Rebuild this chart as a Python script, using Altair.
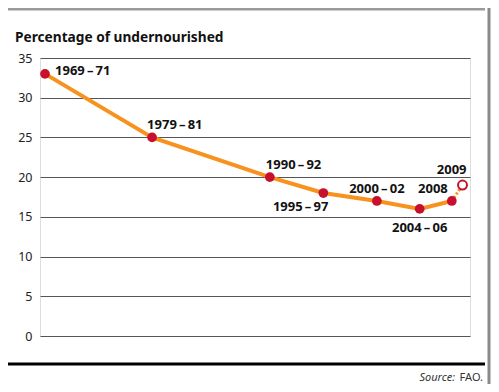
import altair as alt
import pandas as pd

# Data
periods = ["1969\u2009–\u200971", "1979\u2009–\u200981", "1990\u2009–\u200992", "1995\u2009–\u200997",
           "2000\u2009–\u200902", "2004\u2009–\u200906", "2008", "2009"]
mid_years = [1970, 1980, 1991, 1996, 2001, 2005, 2008, 2009]
pct = [33, 25, 20, 18, 17, 16, 17, 19]
estimate = [False, False, False, False, False, False, False, True]
y_ticks = [0, 5, 10, 15, 20, 25, 30, 35]

df = pd.DataFrame({"period": periods, "year": mid_years, "pct": pct, "est": estimate})
one = pd.DataFrame({"a": [0]})

FONT = "Noto Sans"
ORANGE = "#f7921e"
RED = "#c8102e"

x = alt.X("year:Q", scale=alt.Scale(domain=[1969.53, 2009.7], nice=False, zero=False), axis=None)
y = alt.Y("pct:Q", scale=alt.Scale(domain=[0, 35], nice=False),
          axis=alt.Axis(values=y_ticks, title=None, domain=False, ticks=False, grid=True,
                        gridColor="#555", gridWidth=1, labelColor="#222", labelFont=FONT,
                        labelFontSize=12.5, labelPadding=8))

base = alt.Chart(df)

solid = base.transform_filter("datum.year <= 2008").mark_line(
    color=ORANGE, strokeWidth=4).encode(x=x, y=y)
dashed = base.transform_filter("datum.year >= 2008").mark_line(
    color=ORANGE, strokeWidth=3, strokeDash=[2, 2]).encode(x=x, y=y)
pts = base.transform_filter("!datum.est").mark_point(
    filled=True, color=RED, size=95, opacity=1).encode(x=x, y=y)
hollow = base.transform_filter("datum.est").mark_point(
    filled=True, fill="white", stroke=RED, strokeWidth=2, size=80, opacity=1).encode(x=x, y=y)

# label placement (layout only), in the order of `periods`
placement = [
    ("left", 10, -3),
    ("left", -5, -12),
    ("left", -4, -12),
    ("right", 5, 14),
    ("center", 0, -12),
    ("center", 0, 19),
    ("right", -4, -12),
    ("right", 4, -15),
]
labels = []
for p, (al, dx, dy) in zip(periods, placement):
    labels.append(
        base.transform_filter(alt.datum.period == p).mark_text(
            font=FONT, fontSize=13, fontWeight="bold", color="#111", align=al,
            baseline="middle", dx=dx, dy=dy).encode(x=x, y=y, text="period:N"))

oc = alt.Chart(one)
title = oc.mark_text(text="Percentage of undernourished", font=FONT, fontSize=13.7,
                     fontWeight="bold", color="#111", align="left", baseline="middle").encode(
    x=alt.value(-25), y=alt.value(-20))
top_line = oc.mark_rule(color="#9a9a9a", strokeWidth=3).encode(
    x=alt.value(-32), x2=alt.value(445), y=alt.value(-49))
black_line = oc.mark_rule(color="#000", strokeWidth=3).encode(
    x=alt.value(-32), x2=alt.value(445), y=alt.value(306))
right_border = oc.mark_rule(color="#8a8a8a", strokeWidth=3).encode(
    x=alt.value(449), y=alt.value(-50), y2=alt.value(326))
src1 = oc.mark_text(text="Source:", font=FONT, fontSize=11, fontStyle="italic",
                    color="#333", align="right", baseline="middle").encode(
    x=alt.value(415), y=alt.value(320))
src2 = oc.mark_text(text="FAO.", font=FONT, fontSize=11, color="#333",
                    align="right", baseline="middle").encode(
    x=alt.value(443), y=alt.value(320))

chart = alt.layer(solid, dashed, pts, hollow, *labels, title, top_line, black_line,
                  right_border, src1, src2).properties(
    width=430, height=278,
    autosize=alt.AutoSizeParams(type="none"),
    padding={"left": 32, "top": 50, "right": 21, "bottom": 48},
).configure_view(stroke=None).configure(background="white")

chart.save("out.html", embed_options={"renderer": "svg", "actions": False})
